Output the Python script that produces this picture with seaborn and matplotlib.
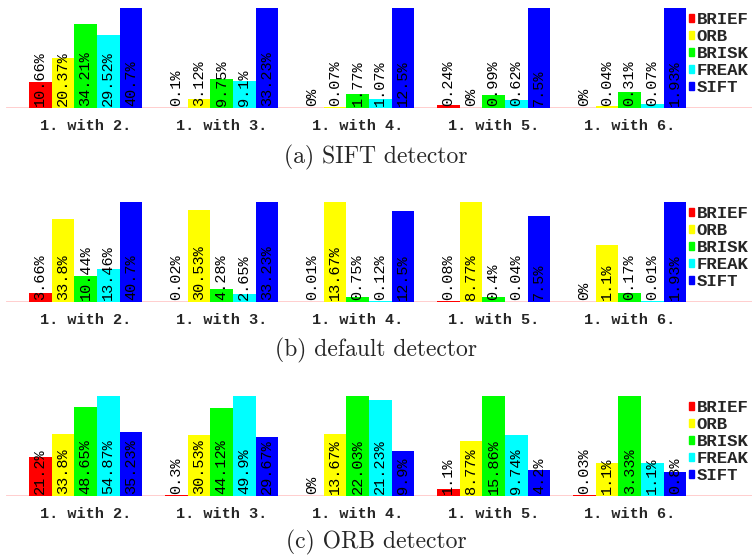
import matplotlib

matplotlib.use("Agg")
import matplotlib.pyplot as plt
from matplotlib.patches import Patch
import pandas as pd
import seaborn as sns

pairs = ["1. with 2.", "1. with 3.", "1. with 4.", "1. with 5.", "1. with 6."]
methods = ["BRIEF", "ORB", "BRISK", "FREAK", "SIFT"]
colors = ["#ff0000", "#ffff00", "#00ff00", "#00ffff", "#0000ff"]

# percent of correct matches, one row per image pair, columns follow `methods`
sift_detector = [
    [10.66, 20.37, 34.21, 29.52, 40.7],
    [0.1, 3.12, 9.75, 9.1, 33.23],
    [0, 0.07, 1.77, 1.07, 12.5],
    [0.24, 0, 0.99, 0.62, 7.5],
    [0, 0.04, 0.31, 0.07, 1.93],
]
default_detector = [
    [3.66, 33.8, 10.44, 13.46, 40.7],
    [0.02, 30.53, 4.28, 2.65, 33.23],
    [0.01, 13.67, 0.75, 0.12, 12.5],
    [0.08, 8.77, 0.4, 0.04, 7.5],
    [0, 1.1, 0.17, 0.01, 1.93],
]
orb_detector = [
    [21.2, 33.8, 48.65, 54.87, 35.23],
    [0.3, 30.53, 44.12, 49.9, 29.67],
    [0, 13.67, 22.03, 21.23, 9.9],
    [1.1, 8.77, 15.86, 9.74, 4.2],
    [0.03, 1.1, 3.33, 1.1, 0.8],
]
captions = ["(a) SIFT detector", "(b) default detector", "(c) ORB detector"]
panels = [sift_detector, default_detector, orb_detector]

sns.set_style("white")

W, H = 752, 556
fig = plt.figure(figsize=(W / 100, H / 100), dpi=100)

# baseline (px from top) of each panel; bars are scaled to the group maximum
baselines = [108, 302, 496]
bar_h = 100
caption_y = [157, 350, 542]

for rows, base, cap, cy in zip(panels, baselines, captions, caption_y):
    records = []
    for pair, vals in zip(pairs, rows):
        top = max(vals)
        for m, v in zip(methods, vals):
            records.append({"pair": pair, "method": m, "value": v, "height": v / top})
    df = pd.DataFrame(records)

    ax = fig.add_axes([6 / W, (H - base) / H, 746 / W, bar_h / H])
    ax.axhline(0, color="#ffcaca", lw=2, zorder=0)
    sns.barplot(
        data=df,
        x="pair",
        y="height",
        hue="method",
        hue_order=methods,
        order=pairs,
        palette=colors,
        saturation=1,
        width=5 / 6,
        linewidth=0,
        legend=False,
        ax=ax,
    )
    for m, cont in zip(methods, ax.containers):
        sub = df[df["method"] == m].set_index("pair").loc[pairs]
        for patch, v in zip(cont.patches, sub["value"]):
            xc = patch.get_x() + patch.get_width() / 2
            ax.text(xc, 0.025, f"{v:g}%", rotation=90, ha="center", va="bottom",
                    family="Liberation Mono", fontsize=11, color="black")

    ax.set_xlim(-0.585, 4.90)
    ax.set_ylim(0, 1)
    ax.set_xlabel("")
    ax.set_ylabel("")
    ax.set_yticks([])
    for s in ax.spines.values():
        s.set_visible(False)
    ax.tick_params(axis="x", length=0, pad=8)
    for lab in ax.get_xticklabels():
        lab.set_family("Liberation Mono")
        lab.set_fontweight("bold")
        lab.set_fontsize(11)

    handles = [Patch(color=c, label=m) for c, m in zip(colors, methods)]
    ax.legend(
        handles=handles,
        loc="upper left",
        bbox_to_anchor=(689 / W, 1 - (base - 96) / H),
        bbox_transform=fig.transFigure,
        frameon=False,
        prop={"family": "Liberation Mono", "weight": "bold", "size": 12.5},
        handlelength=0.3,
        handleheight=0.3,
        handletextpad=0.15,
        labelspacing=0.12,
        borderpad=0,
        borderaxespad=0,
    )

    fig.text(0.5, 1 - cy / H, cap, ha="center", va="center",
             family="cmr10", fontsize=17)

fig.savefig("out.png", dpi=100)
